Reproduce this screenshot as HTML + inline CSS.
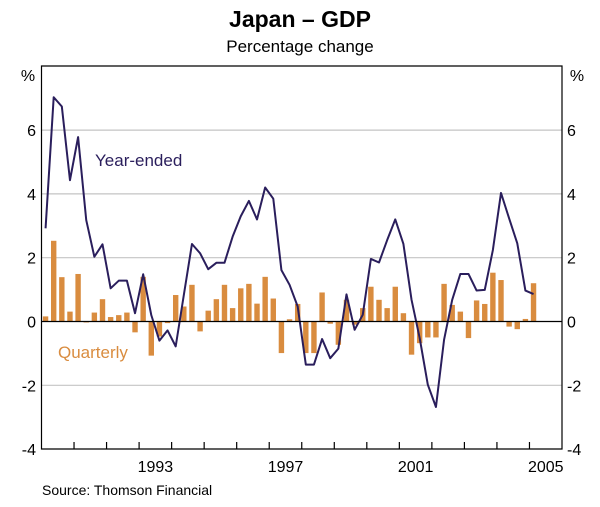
<!DOCTYPE html>
<html><head><meta charset="utf-8"><style>
body{margin:0;background:#fff;}
svg{display:block;font-family:"Liberation Sans",Arial,sans-serif;}
</style></head><body>
<svg id="chart" width="600" height="507" xmlns="http://www.w3.org/2000/svg">
<text x="300" y="27" text-anchor="middle" font-size="23" font-weight="bold">Japan – GDP</text>
<text x="300" y="52" text-anchor="middle" font-size="17">Percentage change</text>
<text x="28" y="81" text-anchor="middle" font-size="16">%</text>
<text x="577" y="81" text-anchor="middle" font-size="16">%</text>
<g id="grid"></g>
<g id="bars"></g>
<g id="line"></g>
<g id="axes"></g>
<text x="95" y="166" font-size="17" fill="#2a1e5c">Year-ended</text>
<text x="58" y="358" font-size="17" fill="#d98c3f">Quarterly</text>
<text x="42" y="495" font-size="14">Source: Thomson Financial</text>
</svg>
<script>
const startYear = 1990;
const yTicks = [-4,-2,0,2,4,6];
const yearLabels = [1993,1997,2001,2005];
const quarterly = [0.16,2.53,1.39,0.31,1.49,-0.03,0.28,0.70,0.14,0.2,0.28,-0.34,1.4,-1.07,-0.47,-0.05,0.83,0.47,1.15,-0.31,0.34,0.7,1.15,0.42,1.04,1.18,0.56,1.40,0.72,-0.99,0.07,0.55,-0.99,-0.99,0.91,-0.07,-0.73,0.68,-0.1,0.42,1.09,0.68,0.42,1.09,0.26,-1.04,-0.68,-0.5,-0.5,1.18,0.52,0.31,-0.52,0.66,0.55,1.53,1.30,-0.16,-0.24,0.08,1.2];
const yearEnded = [2.92,7.03,6.74,4.43,5.78,3.18,2.03,2.42,1.04,1.28,1.28,0.26,1.48,0.2,-0.6,-0.28,-0.78,0.83,2.43,2.14,1.64,1.84,1.84,2.66,3.30,3.78,3.2,4.2,3.85,1.61,1.15,0.47,-1.35,-1.35,-0.55,-1.15,-0.85,0.85,-0.26,0.21,1.96,1.85,2.55,3.2,2.43,0.68,-0.52,-1.98,-2.68,-0.57,0.68,1.49,1.49,0.97,0.99,2.24,4.03,3.23,2.45,0.97,0.86];

const L=41.5,R=562,T=66,B=449,yMin=-4,yMax=8.1;
const yearW=(R-L)/16;
const X=q=>L+(q+0.5)*yearW/4;
const Y=v=>321.5-v*31.9;
const NS='http://www.w3.org/2000/svg';
function mk(tag,attrs,parent){const e=document.createElementNS(NS,tag);for(const k in attrs)e.setAttribute(k,attrs[k]);parent.appendChild(e);return e;}
const grid=document.getElementById('grid'),bars=document.getElementById('bars'),line=document.getElementById('line'),axes=document.getElementById('axes');
yTicks.forEach(v=>{
  if(v!==-4&&v!==0){const g=mk('line',{x1:L,x2:R,y1:Y(v),y2:Y(v),stroke:'#c4c4c4','stroke-width':1.2},grid);
  
  }
  const t1=mk('text',{x:36,y:Y(v)+6,'text-anchor':'end','font-size':16},axes);t1.textContent=v;
  
  
  const t2=mk('text',{x:567,y:Y(v)+6,'font-size':16},axes);t2.textContent=v;
  
  
});
quarterly.forEach((v,i)=>{
  const r=mk('rect',{x:X(i)-2.7,width:5.4,y:Math.min(Y(v),Y(0)),height:Math.abs(Y(v)-Y(0)),fill:'#d98c3f'},bars);
  
  
});
const p=mk('polyline',{points:yearEnded.map((v,i)=>X(i)+','+Y(v)).join(' '),fill:'none',stroke:'#2a1e5c','stroke-width':2,'stroke-linejoin':'round'},line);


const z=mk('line',{x1:L,x2:R,y1:Y(0),y2:Y(0),stroke:'#000','stroke-width':1.3},axes);


const f=mk('path',{d:`M${L},${B} V${T} H${R} V${B} Z`,fill:'none',stroke:'#000','stroke-width':1.2},axes);


for(let k=1;k<16;k++){const t=mk('line',{x1:L+k*yearW,x2:L+k*yearW,y1:B-7,y2:B,stroke:'#000','stroke-width':1.2},axes);
  
  }
yearLabels.forEach(y=>{const t=mk('text',{x:L+(y-startYear+0.5)*yearW,y:472,'text-anchor':'middle','font-size':16},axes);t.textContent=y;
  
  });
</script>
</body></html>
